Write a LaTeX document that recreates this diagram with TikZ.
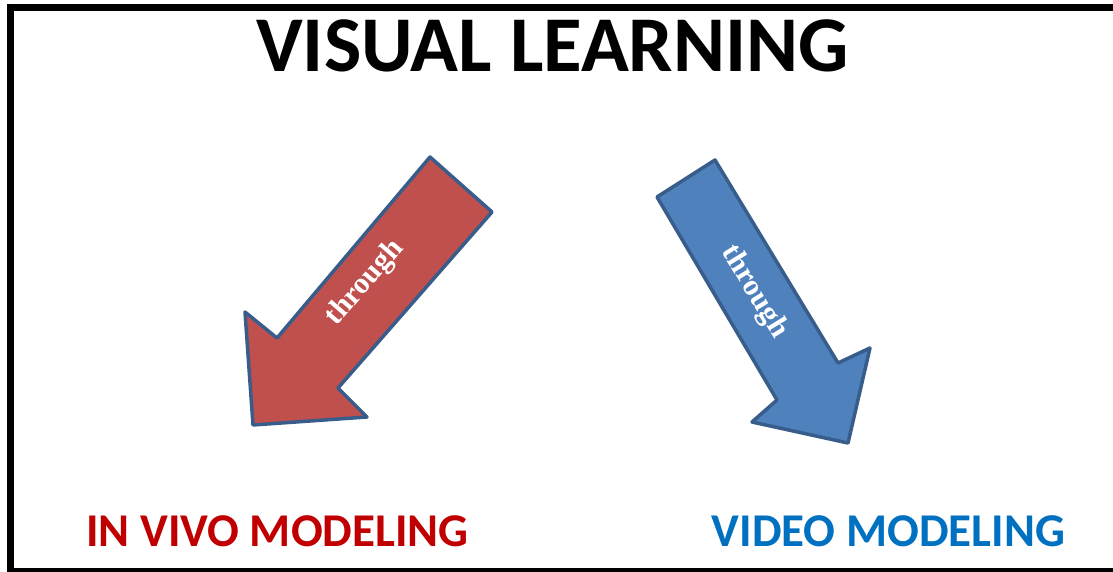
\documentclass[tikz,border=0pt]{standalone}
\usepackage{fontspec}
\setmainfont{Carlito}
\newfontfamily\throughfont{Liberation Serif}
\usetikzlibrary{positioning}
\usepackage{xcolor}

\definecolor{arrowred}{RGB}{192,80,77}
\definecolor{arrowblue}{RGB}{79,129,189}
\definecolor{arrowline}{RGB}{56,93,138}
\definecolor{modelred}{RGB}{192,0,0}
\definecolor{modelblue}{RGB}{0,112,192}

\tikzset{
	fatarrow/.style={draw=arrowline, line width=3.5pt, line join=round},
	throughtext/.style={text=white, inner sep=0pt, font=\throughfont\bfseries\fontsize{30}{30}\selectfont},
	modeltext/.style={inner sep=0pt, anchor=base, font=\bfseries\fontsize{47}{47}\selectfont}
}

\begin{document}
\begin{tikzpicture}[x=1pt, y=-1pt]
		\useasboundingbox (0,0) rectangle (1113,572);
		% frame
		\draw[line width=7pt] (1125,7.5) -- (10.5,7.5) -- (10.5,571.5) -- (1125,571.5);
		
		\node[inner sep=0pt, anchor=base, font=\bfseries\fontsize{79}{79}\selectfont] (title) at (552.5,72) {VISUAL LEARNING};
		
		% arrows
		\draw[fatarrow, fill=arrowred] (430,157) -- (492,212) -- (338,388) -- (367,417) -- (253,425) -- (245,312) -- (277,338) -- cycle;
		\draw[fatarrow, fill=arrowblue] (715,160) -- (657,197) -- (777,400) -- (752,422) -- (848,443) -- (870,348) -- (838,363) -- cycle;
		
		\node[throughtext, rotate=49] (redthrough) at (365,283) {through};
		\node[throughtext, rotate=-58.5] (bluethrough) at (754,292) {through};
		
		\node[modeltext, text=modelred] (invivo) at (277.5,546) {IN VIVO MODELING};
		\node[modeltext, text=modelblue] (video) at (888.5,546) {VIDEO MODELING};
	\end{tikzpicture}
\end{document}
